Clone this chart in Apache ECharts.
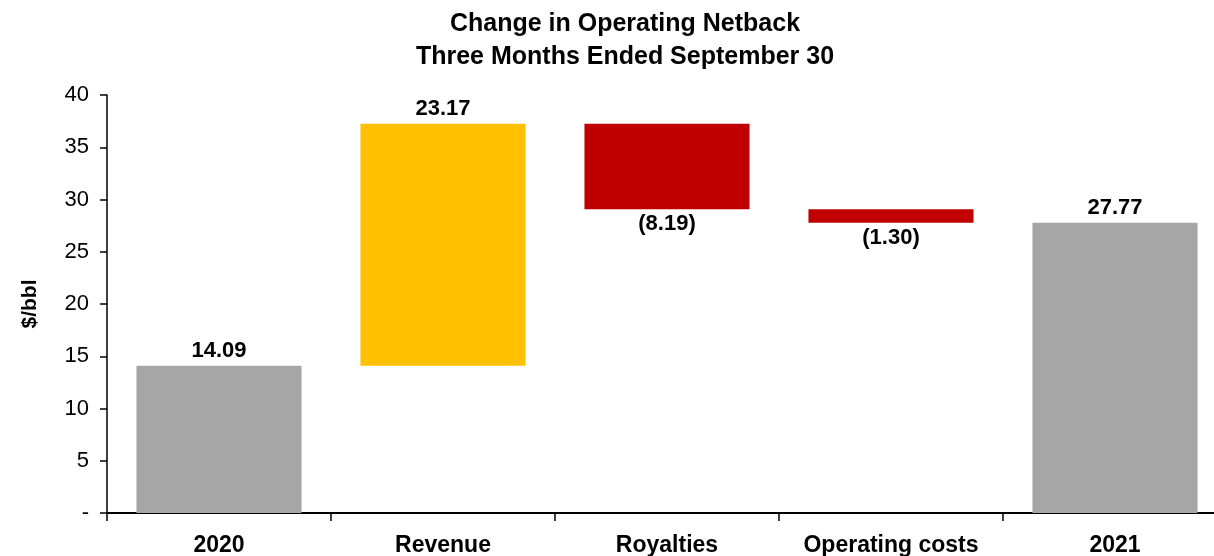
<!DOCTYPE html>
<html>
<head>
<meta charset="utf-8">
<script src="https://cdn.jsdelivr.net/npm/echarts@6/dist/echarts.min.js"></script>
<style>
  html, body { margin: 0; padding: 0; background: #fff; }
  #chart { width: 1214px; height: 556px; }
</style>
</head>
<body>
<div id="chart"></div>
<script>
const categories = ['2020', 'Revenue', 'Royalties', 'Operating costs', '2021'];
// totals are drawn from zero, changes float on the running total
const changes = [14.09, 23.17, -8.19, -1.30, 27.77];
const isTotal = [true, false, false, false, true];
const barColors = ['#A6A6A6', '#FFC000', '#C00000', '#C00000', '#A6A6A6'];
const yTicks = [0, 5, 10, 15, 20, 25, 30, 35, 40];

let running = 0;
const baseData = [];
const barData = [];
changes.forEach((v, i) => {
  if (isTotal[i]) {
    baseData.push(0);
    barData.push(v);
    running = v;
  } else if (v >= 0) {
    baseData.push(running);
    barData.push(v);
    running += v;
  } else {
    running += v;
    baseData.push(running);
    barData.push(-v);
  }
});

const chart = echarts.init(document.getElementById('chart'));
const font = 'Liberation Sans, Arial, sans-serif';

chart.setOption({
  animation: false,
  title: {
    text: 'Change in Operating Netback\nThree Months Ended September 30',
    left: 620,
    textAlign: 'center',
    top: 3,
    textStyle: {
      fontFamily: font,
      fontSize: 25,
      fontWeight: 'bold',
      color: '#000',
      lineHeight: 33
    }
  },
  // the plot runs a little past the right edge of the picture
  grid: { left: 107, width: 1120, top: 95, bottom: 43, containLabel: false, outerBoundsMode: 'none' },
  xAxis: {
    type: 'category',
    data: categories,
    axisLine: { lineStyle: { color: '#000', width: 2 } },
    axisTick: { show: true, length: 8, lineStyle: { color: '#000', width: 1.5 } },
    axisLabel: {
      interval: 0,
      color: '#000',
      fontFamily: font,
      fontSize: 23,
      fontWeight: 'bold',
      margin: 21
    }
  },
  yAxis: {
    type: 'value',
    min: yTicks[0],
    max: yTicks[yTicks.length - 1],
    interval: 5,
    name: '$/bbl',
    nameLocation: 'middle',
    nameRotate: 90,
    nameGap: 66,
    nameTextStyle: {
      fontFamily: font,
      fontSize: 21,
      fontWeight: 'bold',
      color: '#000'
    },
    splitLine: { show: false },
    axisLine: { show: true, lineStyle: { color: '#000', width: 1.5 } },
    axisTick: { show: true, length: 7, lineStyle: { color: '#000', width: 1.5 } },
    axisLabel: {
      color: '#000',
      fontFamily: font,
      fontSize: 22,
      margin: 18,
      formatter: v => (v === 0 ? '-' : v)
    }
  },
  series: [
    {
      type: 'bar',
      stack: 'wf',
      data: baseData,
      barWidth: '73.7%',
      itemStyle: { color: 'transparent' },
      silent: true
    },
    {
      type: 'bar',
      stack: 'wf',
      barWidth: '73.7%',
      data: barData.map((v, i) => ({
        value: v,
        itemStyle: { color: barColors[i] },
        label: {
          show: true,
          position: changes[i] < 0 ? 'bottom' : 'top',
          distance: 4,
          formatter: () => changes[i] < 0
            ? '(' + Math.abs(changes[i]).toFixed(2) + ')'
            : changes[i].toFixed(2),
          fontFamily: font,
          fontSize: 22,
          fontWeight: 'bold',
          color: '#000'
        }
      }))
    }
  ]
});
</script>
</body>
</html>
